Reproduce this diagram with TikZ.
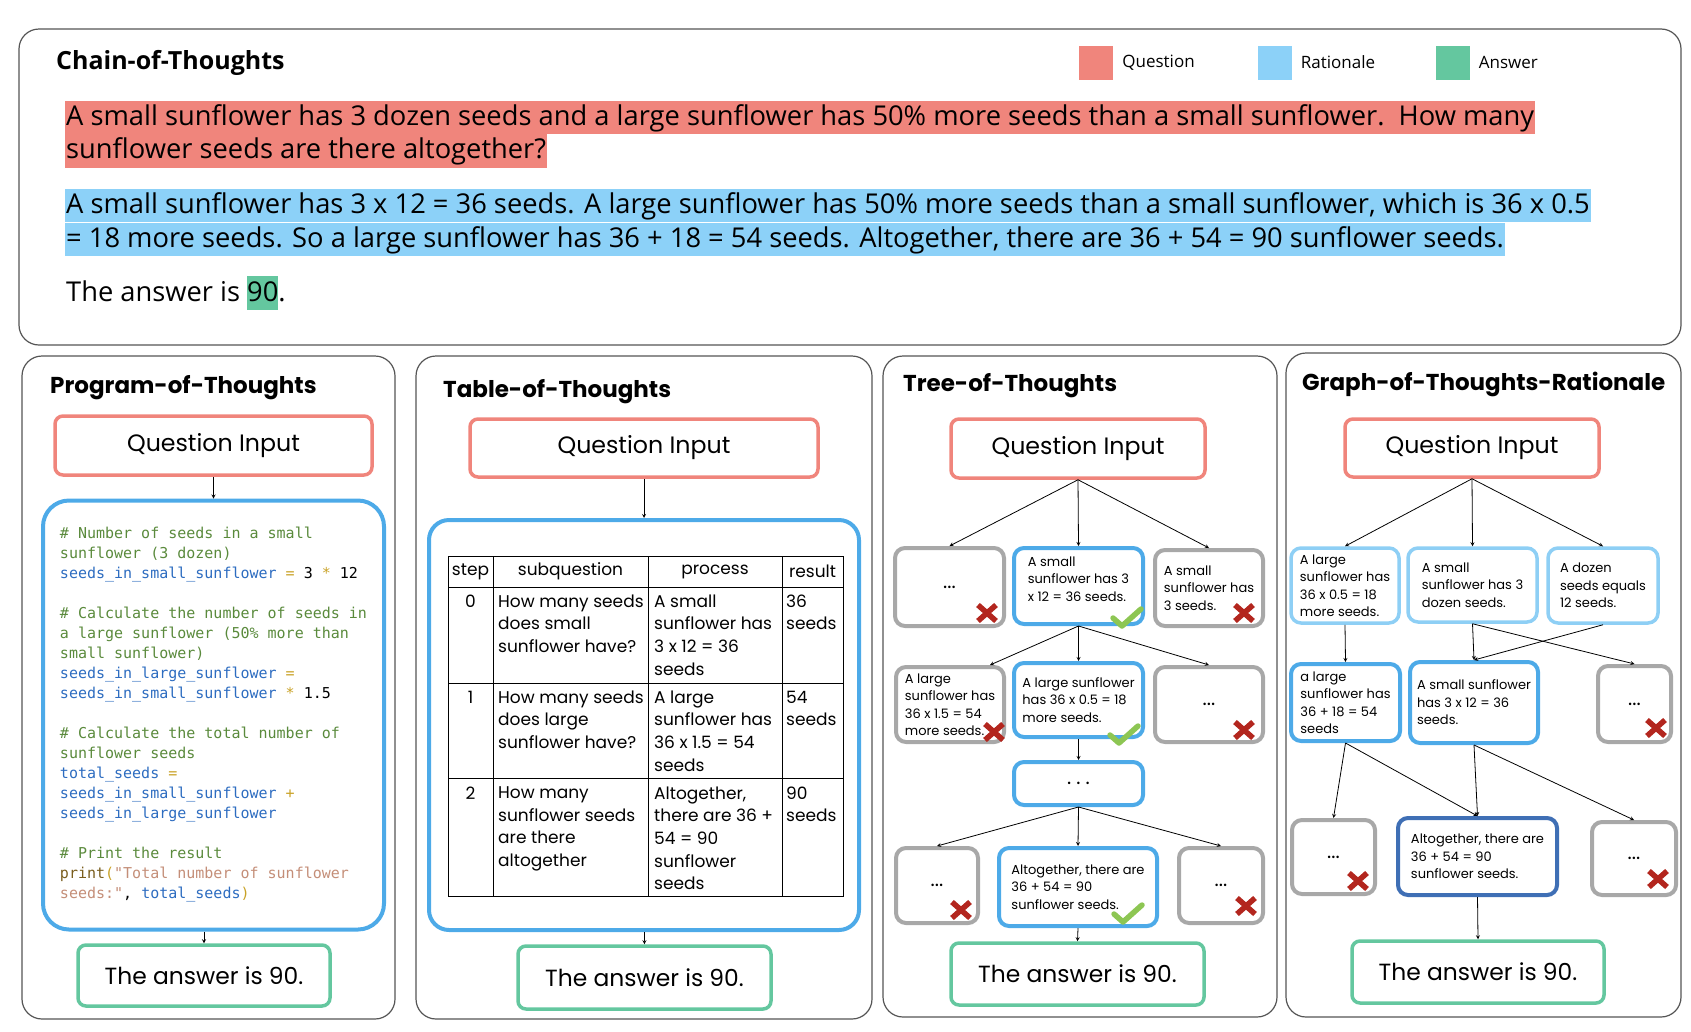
\documentclass[tikz,border=0pt]{standalone}
\usepackage{fontspec}
\setmainfont{Poppins}
\newfontfamily\cotfont{Open Sans}
\newfontfamily\codefont{DejaVu Sans Mono}
\usepackage{xcolor}
\usetikzlibrary{shapes,arrows,positioning,calc}

\definecolor{qred}{HTML}{F0857C}
\definecolor{ratblue}{HTML}{8CD1F8}
\definecolor{ansgreen}{HTML}{64C79F}
\definecolor{stepblue}{HTML}{4DAAE8}
\definecolor{lightblue}{HTML}{8ECFF5}
\definecolor{darkblue}{HTML}{3F6FB5}
\definecolor{deadgray}{HTML}{A8A8A8}
\definecolor{framegray}{HTML}{555555}
\definecolor{crossred}{HTML}{B3261E}
\definecolor{tickgreen}{HTML}{8DC653}
\definecolor{cmtgreen}{HTML}{5A8A3C}
\definecolor{idblue}{HTML}{2D6CC0}
\definecolor{opgold}{HTML}{C9A227}
\definecolor{strbrown}{HTML}{C48E78}
\definecolor{kwbrown}{HTML}{7A5E1E}

% code colouring
\newcommand{\pycmt}[1]{\textcolor{cmtgreen}{#1}}
\newcommand{\pyid}[1]{\textcolor{idblue}{#1}}
\newcommand{\pyop}[1]{\textcolor{opgold}{#1}}
\newcommand{\pystr}[1]{\textcolor{strbrown}{#1}}
\newcommand{\pykw}[1]{\textcolor{kwbrown}{#1}}
\newcommand{\hlanswer}[1]{{\setlength{\fboxsep}{0pt}\colorbox{ansgreen}{\rule[-8.5pt]{0pt}{34pt}#1}}}
\newcommand{\skipdots}{{\fontsize{20}{20}\selectfont ...}}
\newcommand{\widedots}{{\fontsize{20}{20}\selectfont .\hspace{5pt}.\hspace{5pt}.}}

% marks on the thought boxes
\newcommand{\crossat}[1]{\begin{scope}[shift={#1}]
  \draw[crossred, line width=5.5pt] (-9,-8) -- (9,8) (-9,8) -- (9,-8);
\end{scope}}
\newcommand{\tickat}[1]{\begin{scope}[shift={#1}]
  \draw[tickgreen, line width=5.5pt, line cap=round, line join=round] (-14,0) -- (-5,8) -- (14,-9);
\end{scope}}

\begin{document}
\begin{tikzpicture}[x=1pt, y=-1pt,
    panel/.style={draw=framegray, line width=1.2pt, rounded corners=20pt},
    title/.style={anchor=west, inner sep=0pt, font=\bfseries\fontsize{23}{27}\selectfont},
    qbox/.style={draw=qred, line width=3.5pt, rounded corners=8pt, font=\fontsize{23.7}{27}\selectfont},
    ansbox/.style={draw=ansgreen, line width=3.5pt, rounded corners=8pt, font=\fontsize{23.4}{27}\selectfont},
    thought/.style={rounded corners=10pt, line width=4pt, align=left, inner sep=0pt, font=\fontsize{13}{17.5}\selectfont},
    good/.style={thought, draw=stepblue},
    dead/.style={thought, draw=deadgray},
    hint/.style={thought, draw=lightblue, line width=3.5pt},
    final/.style={thought, draw=darkblue},
    cell/.style={anchor=north west, align=left, inner sep=0pt, font=\fontsize{17}{22.6}\selectfont},
    headcell/.style={inner sep=0pt, font=\fontsize{17}{22.6}\selectfont},
    legsq/.style={minimum size=34pt, inner sep=0pt},
    legtext/.style={inner sep=0pt, font=\cotfont\fontsize{17}{20}\selectfont},
    cotline/.style={anchor=base west, inner xsep=1pt, inner ysep=0pt, text height=24.5pt, text depth=9pt, font=\cotfont\fontsize{27.3}{34}\selectfont},
    arrow/.style={->, >=stealth, line width=0.8pt}
]
\useasboundingbox (0,0) rectangle (1691,1031);

% chain of thoughts
\draw[panel] (19,29) rectangle (1681,345);
\node[title, font=\cotfont\bfseries\fontsize{25}{29}\selectfont] (cot) at (56,63) {Chain-of-Thoughts};
\node[legsq, fill=qred] (legq) at (1096,62.5) {};
\node[legtext, right=9pt of legq] {Question};
\node[legsq, fill=ratblue] (legr) at (1274.5,62.5) {};
\node[legtext, right=9pt of legr] {Rationale};
\node[legsq, fill=ansgreen] (lega) at (1452.5,62.5) {};
\node[legtext, right=9pt of lega] {Answer};

\node[cotline, fill=qred] (cotq1) at (65,125) {A small sunflower has 3 dozen seeds and a large sunflower has 50\% more seeds than a small sunflower.\ \ How many};
\node[cotline, fill=qred] (cotq2) at (65,158.5) {sunflower seeds are there altogether?};
\node[cotline, fill=ratblue] (cotr1) at (65,213) {A small sunflower has 3 x 12 = 36 seeds. A large sunflower has 50\% more seeds than a small sunflower, which is 36 x 0.5};
\node[cotline, fill=ratblue] (cotr2) at (65,247) {= 18 more seeds. So a large sunflower has 36 + 18 = 54 seeds. Altogether, there are 36 + 54 = 90 sunflower seeds.};
\node[cotline] (cota) at (65,301.5) {The answer is \hlanswer{90}.};

% program of thoughts
\draw[panel] (22,356) rectangle (395,1019);
\node[title] (pot) at (50,388) {Program-of-Thoughts};
\node[qbox, minimum width=317pt, minimum height=59pt] (potq) at (213.5,445.5) {Question Input};
\node[good, rounded corners=26pt, minimum width=341pt, minimum height=429pt, font=\codefont\fontsize{15}{20}\selectfont] (potcode) at (213.5,715) {%
\pycmt{\# Number of seeds in a small}\\
\pycmt{sunflower (3 dozen)}\\
\pyid{seeds\_in\_small\_sunflower} \pyop{=} 3 \pyop{*} 12\\[20pt]
\pycmt{\# Calculate the number of seeds in}\\
\pycmt{a large sunflower (50\% more than}\\
\pycmt{small sunflower)}\\
\pyid{seeds\_in\_large\_sunflower} \pyop{=}\\
\pyid{seeds\_in\_small\_sunflower} \pyop{*} 1.5\\[20pt]
\pycmt{\# Calculate the total number of}\\
\pycmt{sunflower seeds}\\
\pyid{total\_seeds} \pyop{=}\\
\pyid{seeds\_in\_small\_sunflower} \pyop{+}\\
\pyid{seeds\_in\_large\_sunflower}\\[20pt]
\pycmt{\# Print the result}\\
\pykw{print}\pyop{(}\pystr{"Total number of sunflower}\\
\pystr{seeds:"}, \pyid{total\_seeds}\pyop{)}};
\node[ansbox, minimum width=252pt, minimum height=61pt] (pota) at (204,975.5) {The answer is 90.};

\draw[arrow] (potq) -- (potcode);
\draw[arrow] (pota |- potcode.south) -- (pota);

% table of thoughts
\draw[panel] (416,356) rectangle (872,1019);
\node[title] (tabt) at (443,392) {Table-of-Thoughts};
\node[qbox, minimum width=348pt, minimum height=58pt] (tabq) at (644,448) {Question Input};
\node[good, rounded corners=20pt, minimum width=430pt, minimum height=410pt] (tabbox) at (644,725) {};
\node[ansbox, minimum width=253pt, minimum height=63pt] (taba) at (644.5,977.5) {The answer is 90.};

\draw[arrow] (tabq) -- (tabbox);
\draw[arrow] (tabbox) -- (taba);

\draw[line width=0.8pt] (448,556) rectangle (843,896)
  (493,556) -- (493,896) (648,556) -- (648,896) (782,556) -- (782,896)
  (448,587) -- (843,587) (448,683) -- (843,683) (448,778) -- (843,778);

\node[headcell] (hstep) at (470.5,571.5) {step};
\node[headcell] (hsub) at (570.5,571.5) {subquestion};
\node[headcell] (hproc) at (715,571.5) {process};
\node[headcell] (hres) at (812.5,571.5) {result};

\node[cell, anchor=north] (step0) at (470.5,594.5) {0};
\node[cell] (sub0) at (498,594.5) {How many seeds\\does small\\sunflower have?};
\node[cell] (proc0) at (654,594.5) {A small\\sunflower has\\3 x 12 = 36\\seeds};
\node[cell] (res0) at (786,594.5) {36\\seeds};

\node[cell, anchor=north] (step1) at (470.5,690.5) {1};
\node[cell] (sub1) at (498,690.5) {How many seeds\\does large\\sunflower have?};
\node[cell] (proc1) at (654,690.5) {A large\\sunflower has\\36 x 1.5 = 54\\seeds};
\node[cell] (res1) at (786,690.5) {54\\seeds};

\node[cell, anchor=north] (step2) at (470.5,786.5) {2};
\node[cell] (sub2) at (498,786.5) {How many\\sunflower seeds\\are there\\altogether};
\node[cell] (proc2) at (654,786.5) {Altogether,\\there are 36 +\\54 = 90\\sunflower\\seeds};
\node[cell] (res2) at (786,786.5) {90\\seeds};

% tree of thoughts
\draw[panel] (883,356) rectangle (1277,1017);
\node[title] (tott) at (903,386) {Tree-of-Thoughts};
\node[qbox, minimum width=254pt, minimum height=59pt] (totq) at (1078,448.5) {Question Input};
\node[dead, minimum width=109pt, minimum height=78pt] (tot1a) at (949.5,587) {\skipdots};
\node[good, minimum width=129pt, minimum height=76pt] (tot1b) at (1078.5,586) {A small\\sunflower has 3\\x 12 = 36 seeds.\\[-3pt]};
\node[dead, minimum width=108pt, minimum height=76pt] (tot1c) at (1209,588) {A small\\sunflower has\\3 seeds.};
\node[dead, minimum width=108pt, minimum height=75pt] (tot2a) at (950,704.5) {A large\\sunflower has\\36 x 1.5 = 54\\more seeds.};
\node[good, minimum width=129pt, minimum height=74pt] (tot2b) at (1078.5,700) {A large sunflower\\has 36 x 0.5 = 18\\more seeds.};
\node[dead, minimum width=108pt, minimum height=75pt] (tot2c) at (1209,704.5) {\skipdots};
\node[good, minimum width=129pt, minimum height=43pt] (tot3) at (1078.5,783.5) {\widedots};
\node[dead, minimum width=82pt, minimum height=75pt] (tot4a) at (937,885.5) {\skipdots};
\node[good, minimum width=158pt, minimum height=78pt] (tot4b) at (1078,887) {Altogether, there are\\36 + 54 = 90\\sunflower seeds.};
\node[dead, minimum width=84pt, minimum height=75pt] (tot4c) at (1221,885.5) {\skipdots};
\node[ansbox, minimum width=253pt, minimum height=62pt] (tota) at (1077.5,974) {The answer is 90.};

\draw[arrow] (totq.south) -- (tot1a.north);
\draw[arrow] (totq.south) -- (tot1b.north);
\draw[arrow] (totq.south) -- (tot1c.north);
\draw[arrow] (tot1b.south) -- ([xshift=40pt]tot2a.north);
\draw[arrow] (tot1b.south) -- (tot2b.north);
\draw[arrow] (tot1b.south) -- (tot2c.north);
\draw[arrow] (tot2b.south) -- (tot3.north);
\draw[arrow] (tot3.south) -- (tot4a.north);
\draw[arrow] (tot3.south) -- (tot4b.north);
\draw[arrow] (tot3.south) -- (tot4c.north);
\draw[arrow] (tot4b.south) -- (tota.north);

\crossat{([shift={(-19,-15)}]tot1a.south east)}
\tickat{([shift={(-18,-8)}]tot1b.south east)}
\crossat{([shift={(-21,-15)}]tot1c.south east)}
\crossat{([shift={(-12,-12)}]tot2a.south east)}
\tickat{([shift={(-21,-4)}]tot2b.south east)}
\crossat{([shift={(-21,-14)}]tot2c.south east)}
\crossat{([shift={(-19,-15)}]tot4a.south east)}
\tickat{([shift={(-31,-14)}]tot4b.south east)}
\crossat{([shift={(-19,-19)}]tot4c.south east)}

% graph of thoughts
\draw[panel] (1286,353) rectangle (1681,1017);
\node[title] (gott) at (1302,384) {Graph-of-Thoughts-Rationale};
\node[qbox, minimum width=254pt, minimum height=58pt] (gotq) at (1472,448) {Question Input};
\node[hint, minimum width=108pt, minimum height=75pt] (got1a) at (1345,585.5) {A large\\sunflower has\\36 x 0.5 = 18\\more seeds.};
\node[hint, minimum width=129pt, minimum height=74pt] (got1b) at (1472.5,585) {A small\\sunflower has 3\\dozen seeds.};
\node[hint, minimum width=110pt, minimum height=75pt] (got1c) at (1603,585.5) {A dozen\\seeds equals\\12 seeds.};
\node[good, minimum width=109pt, minimum height=77pt] (got2a) at (1345.5,702.5) {a large\\sunflower has\\36 + 18 = 54\\seeds};
\node[good, minimum width=128pt, minimum height=81pt] (got2b) at (1474,702.5) {A small sunflower\\has 3 x 12 = 36\\seeds.};
\node[dead, minimum width=73pt, minimum height=76pt] (got2c) at (1634.5,704) {\skipdots};
\node[dead, minimum width=83pt, minimum height=74pt] (got3a) at (1333.5,857) {\skipdots};
\node[final, minimum width=159pt, minimum height=77pt] (got3b) at (1477.5,856.5) {Altogether, there are\\36 + 54 = 90\\sunflower seeds.};
\node[dead, minimum width=84pt, minimum height=73pt] (got3c) at (1634,858.5) {\skipdots};
\node[ansbox, minimum width=252pt, minimum height=62pt] (gota) at (1478,972) {The answer is 90.};

\draw[arrow] (gotq.south) -- (got1a.north);
\draw[arrow] (gotq.south) -- (got1b.north);
\draw[arrow] (gotq.south) -- (got1c.north);
\draw[arrow] (got1a.south) -- (got2a.north);
\draw[arrow] (got1b.south) -- (got2b.north);
\draw[arrow] (got1c.south) -- (got2b.north);
\draw[arrow] (got1b.south) -- (got2c.north);
\draw[arrow] (got2a.south) -- (got3a.north);
\draw[arrow] (got2a.south) -- (got3b.north);
\draw[arrow] (got2b.south) -- (got3b.north);
\draw[arrow] (got2b.south) -- (got3c.north);
\draw[arrow] (got3b.south) -- (gota.north);

\crossat{([shift={(-17,-16)}]got2c.south east)}
\crossat{([shift={(-19,-15)}]got3a.south east)}
\crossat{([shift={(-20,-18)}]got3c.south east)}

\end{tikzpicture}
\end{document}
